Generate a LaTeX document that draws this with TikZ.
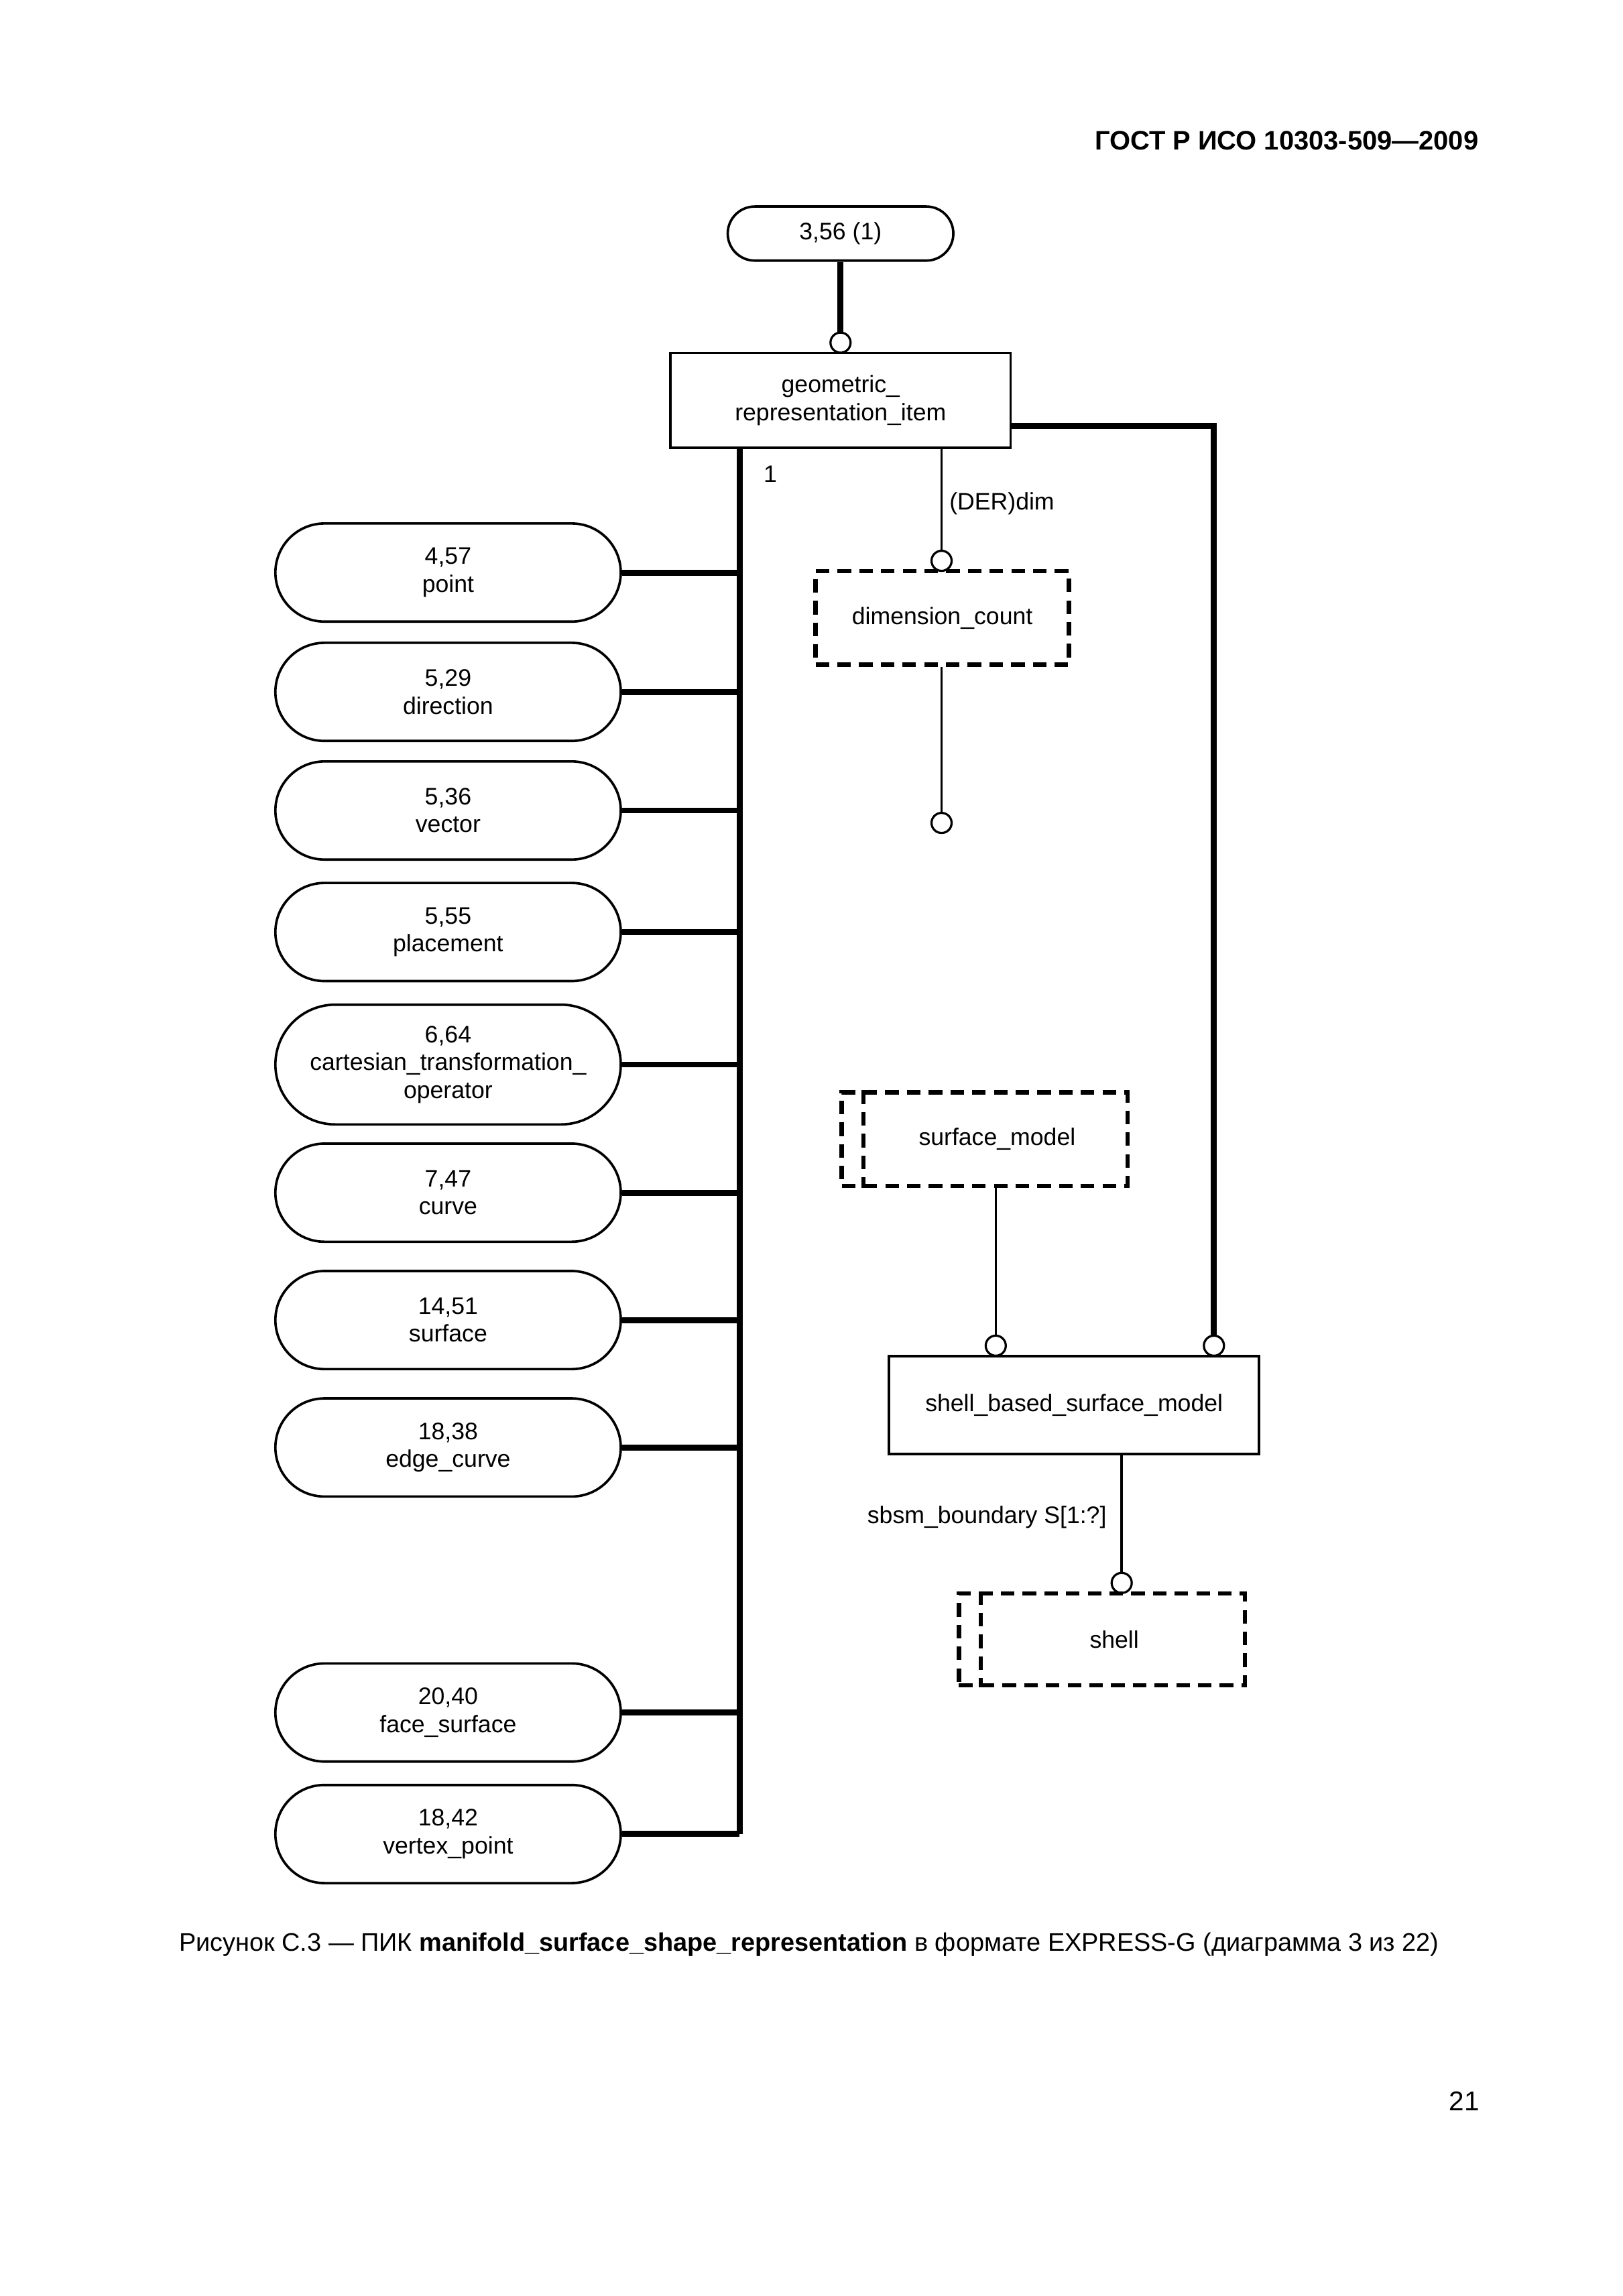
\documentclass[tikz,border=0pt]{standalone}
\usepackage{fontspec}
\setmainfont{Liberation Sans}
\usetikzlibrary{shapes.misc}

\begin{document}
\begin{tikzpicture}[
	x=0.01895cm, y=-0.01895cm,
	every node/.style={ font=\fontsize{8.8}{10.2}\selectfont },
	refbox/.style={ rounded rectangle, draw, line width=0.9pt, align=center, minimum width=4.47cm, minimum height=1.27cm, inner sep=0pt },
	entbox/.style={ rectangle, draw, line width=0.9pt, align=center, inner sep=0pt },
	typebox/.style={ rectangle, draw, line width=1.6pt, dash pattern=on 5pt off 3pt, inner sep=0pt, minimum width=3.70cm, minimum height=1.21cm },
	lollipop/.style={ circle, draw, line width=0.8pt, fill=white, inner sep=0pt, minimum size=0.26cm },
	subline/.style={ line width=2.2pt },
	attrline/.style={ line width=0.9pt },
	lbl/.style={ inner sep=0pt }
]
\useasboundingbox (0,0) rectangle (1108,1568);

\node[lbl, font=\fontsize{9.85}{12}\selectfont\bfseries, anchor=east] at (1010,96) (hdr) {ГОСТ Р ИСО 10303-509—2009};

\node[refbox, minimum width=2.92cm, minimum height=0.70cm] at (574,159.5) (top) {3,56 (1)};
\node[lollipop] at (574,234) (c0) {};
\node[entbox, minimum width=4.40cm, minimum height=1.23cm] at (574,273.5) (geo) {geometric\_\\representation\_item};
\draw[subline] (top.south) -- (c0.north);

% subtypes on the left
\node[refbox] at (306,391) (p1) {4,57\\point};
\node[refbox] at (306,472.5) (p2) {5,29\\direction};
\node[refbox] at (306,553.5) (p3) {5,36\\vector};
\node[refbox] at (306,636.5) (p4) {5,55\\placement};
\node[refbox, minimum height=1.55cm] at (306,727) (p5) {6,64\\cartesian\_transformation\_\\operator};
\node[refbox] at (306,814.5) (p6) {7,47\\curve};
\node[refbox] at (306,901.5) (p7) {14,51\\surface};
\node[refbox] at (306,988.5) (p8) {18,38\\edge\_curve};
\node[refbox] at (306,1169.5) (p9) {20,40\\face\_surface};
\node[refbox] at (306,1252.5) (p10) {18,42\\vertex\_point};
\coordinate (t1) at (505,1252.5);
\draw[subline] (geo.south -| t1) -- (t1);
\foreach \p in {p1,p2,p3,p4,p5,p6,p7,p8,p9,p10} \draw[subline] (\p.east) -- (\p.east -| t1);
\node at (526,324) (lblone) {1};

% derived attribute
\node[lollipop] at (643,383) (c1) {};
\node[typebox, minimum width=3.28cm] at (643.5,422) (dim) {dimension\_count};
\node[lollipop] at (643,562) (c2) {};
\draw[attrline] (geo.south -| c1) -- (c1.north);
\draw[attrline] (dim.south -| c2) -- (c2.north);
\node[lbl, anchor=west] at (648,344) (lbldim) {(DER)dim};

% shell_based_surface_model
\node[typebox] at (672.5,778) (sm) {\hspace{0.32cm}surface\_model};
\node[lollipop] at (680,919) (c3) {};
\node[lollipop] at (829,919) (c5) {};
\node[entbox, minimum width=4.79cm, minimum height=1.27cm] at (733.5,959.5) (sbsm) {shell\_based\_surface\_model};
\node[lollipop] at (766,1081) (c4) {};
\node[typebox, minimum height=1.19cm] at (752.5,1119.5) (shell) {\hspace{0.32cm}shell};
\foreach \b in {sm,shell} \draw[line width=1.6pt, dash pattern=on 5pt off 3pt] ([xshift=0.31cm]\b.north west) -- ([xshift=0.31cm]\b.south west);
\coordinate (r1) at (829,291);
\draw[subline] (geo.east |- r1) -- (r1) -- (c5.north);
\draw[attrline] (sm.south -| c3) -- (c3.north);
\draw[attrline] (sbsm.south -| c4) -- (c4.north);
\node[lbl, anchor=east] at (756,1036) (lblsb) {sbsm\_boundary S[1:?]};

\node[font=\fontsize{9.35}{12}\selectfont] at (552.5,1328) (cap) {Рисунок С.3 — ПИК \textbf{manifold\_surface\_shape\_representation} в формате EXPRESS-G (диаграмма 3 из 22)};
\node[font=\fontsize{10}{12}\selectfont] at (1000,1435) (pg) {21};

\end{tikzpicture}
\end{document}
